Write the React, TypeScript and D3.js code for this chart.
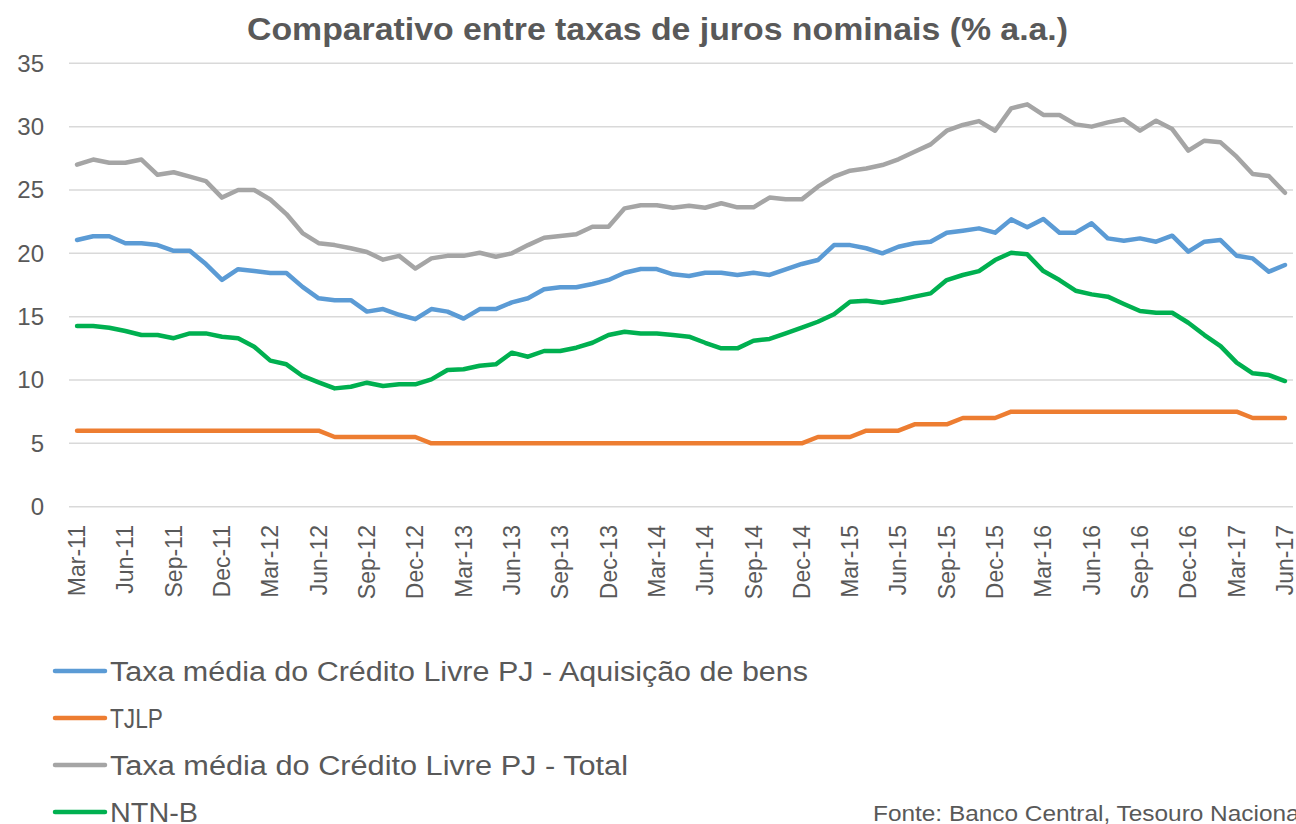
import React, { useRef, useEffect } from "react"
import * as d3 from "d3"

// Monthly observations, Mar-11 .. Jun-17
const months: Date[] = d3.timeMonth.range(new Date(2011, 2, 1), new Date(2017, 6, 1))

const aquisicao = [
  21.05, 21.35, 21.35, 20.8, 20.8, 20.65, 20.2, 20.2, 19.15, 17.9,
  18.75, 18.6, 18.45, 18.45, 17.35, 16.45, 16.3, 16.3, 15.4, 15.6,
  15.15, 14.8, 15.6, 15.4, 14.85, 15.6, 15.6, 16.13, 16.45, 17.16,
  17.32, 17.32, 17.58, 17.9, 18.47, 18.76, 18.76, 18.34, 18.21, 18.47,
  18.47, 18.29, 18.47, 18.29, 18.74, 19.16, 19.47, 20.65, 20.65, 20.4,
  20.0, 20.52, 20.79, 20.92, 21.63, 21.79, 21.97, 21.63, 22.68, 22.05,
  22.71, 21.63, 21.63, 22.37, 21.18, 21.0, 21.18, 20.92, 21.39, 20.13,
  20.92, 21.05, 19.81, 19.6, 18.55, 19.08,
]

const tjlp = [
  6, 6, 6, 6, 6, 6, 6, 6, 6, 6, 6, 6, 6, 6, 6, 6,
  5.5, 5.5, 5.5, 5.5, 5.5, 5.5,
  5, 5, 5, 5, 5, 5, 5, 5, 5, 5, 5, 5, 5, 5, 5, 5, 5, 5, 5, 5, 5, 5, 5, 5,
  5.5, 5.5, 5.5,
  6, 6, 6,
  6.5, 6.5, 6.5,
  7, 7, 7,
  7.5, 7.5, 7.5, 7.5, 7.5, 7.5, 7.5, 7.5, 7.5, 7.5, 7.5, 7.5, 7.5, 7.5, 7.5,
  7, 7, 7,
]

const total = [
  27.0, 27.4, 27.15, 27.15, 27.4, 26.2, 26.4, 26.05, 25.7, 24.4,
  25.0, 25.0, 24.25, 23.1, 21.6, 20.8, 20.65, 20.4, 20.1, 19.5,
  19.8, 18.8, 19.6, 19.8, 19.8, 20.05, 19.73, 20.0, 20.65, 21.23,
  21.37, 21.5, 22.1, 22.1, 23.55, 23.8, 23.8, 23.6, 23.76, 23.6,
  23.95, 23.63, 23.63, 24.4, 24.26, 24.26, 25.26, 26.05, 26.52, 26.7,
  26.97, 27.42, 28.02, 28.6, 29.68, 30.13, 30.44, 29.68, 31.44, 31.76,
  30.92, 30.92, 30.18, 30.0, 30.34, 30.58, 29.68, 30.47, 29.81, 28.1,
  28.89, 28.76, 27.63, 26.26, 26.1, 24.78,
]

const ntnb = [
  14.26, 14.26, 14.13, 13.87, 13.55, 13.55, 13.3, 13.68, 13.68, 13.42,
  13.3, 12.63, 11.53, 11.24, 10.32, 9.82, 9.34, 9.47, 9.79, 9.53,
  9.66, 9.66, 10.05, 10.79, 10.85, 11.13, 11.24, 12.16, 11.84, 12.29,
  12.29, 12.55, 12.94, 13.55, 13.81, 13.68, 13.68, 13.55, 13.42, 12.94,
  12.5, 12.5, 13.1, 13.24, 13.68, 14.13, 14.6, 15.19, 16.18, 16.25,
  16.1, 16.31, 16.58, 16.84, 17.89, 18.29, 18.6, 19.47, 20.05, 19.92,
  18.6, 17.89, 17.05, 16.76, 16.58, 16.0, 15.45, 15.31, 15.31, 14.52,
  13.55, 12.68, 11.37, 10.53, 10.39, 9.92,
]

const yTicks = [0, 5, 10, 15, 20, 25, 30, 35]

const seriesNames = [
  "Taxa média do Crédito Livre PJ - Aquisição de bens",
  "TJLP",
  "Taxa média do Crédito Livre PJ - Total",
  "NTN-B",
]
const seriesValues = [aquisicao, tjlp, total, ntnb]
const colors = ["#5b9bd5", "#ed7d31", "#a5a5a5", "#00b050"]
const legendWidths = [698, 53, 518, 88]

const title = "Comparativo entre taxas de juros nominais (% a.a.)"
const source = "Fonte: Banco Central, Tesouro Nacional"

const fmt = d3.timeFormat("%b-%y")
const font = "'Liberation Sans', Arial, sans-serif"
const textColor = "#595959"

const Chart: React.FC = () => {
  const svgRef = useRef<SVGSVGElement | null>(null)
  const width = 1296
  const height = 824

  useEffect(() => {
    document.body.style.margin = "0"
    const svg = d3.select(svgRef.current)
    svg.selectAll("*").remove()

    const labels = months.map(fmt)

    // SCALES
    const xScale = d3.scaleBand<string>()
      .domain(labels)
      .range([69, 1293])
      .padding(0)
    const xc = (l: string) => (xScale(l) as number) + xScale.bandwidth() / 2

    const yScale = d3.scaleLinear()
      .domain([0, 35])
      .range([506.7, 63.3])

    // GRID
    svg.append("g")
      .selectAll("line")
      .data(yTicks)
      .enter()
      .append("line")
      .attr("x1", 69)
      .attr("x2", 1293)
      .attr("y1", d => yScale(d))
      .attr("y2", d => yScale(d))
      .attr("stroke", "#d9d9d9")
      .attr("stroke-width", 1.5)

    // Y AXIS LABELS
    svg.append("g")
      .selectAll("text")
      .data(yTicks)
      .enter()
      .append("text")
      .attr("x", 44)
      .attr("y", d => yScale(d))
      .attr("dy", "0.35em")
      .attr("text-anchor", "end")
      .attr("font-family", font)
      .attr("font-size", 24)
      .attr("fill", textColor)
      .text(d => d)

    // X AXIS LABELS (every 3 months)
    const tickLabels = labels.filter((_l, i) => i % 3 === 0)
    svg.append("g")
      .selectAll("text")
      .data(tickLabels)
      .enter()
      .append("text")
      .attr("transform", l => `translate(${xc(l)},525) rotate(-90)`)
      .attr("dy", "0.35em")
      .attr("text-anchor", "end")
      .attr("font-family", font)
      .attr("font-size", 23)
      .attr("fill", textColor)
      .text(l => l)

    // LINES
    const line = d3.line<number>()
      .x((_v, i) => xc(labels[i]))
      .y(v => yScale(v))

    svg.append("g")
      .selectAll("path")
      .data(seriesValues)
      .enter()
      .append("path")
      .attr("d", d => line(d))
      .attr("fill", "none")
      .attr("stroke", (_d, i) => colors[i])
      .attr("stroke-width", 4.5)
      .attr("stroke-linejoin", "round")
      .attr("stroke-linecap", "round")

    // TITLE
    svg.append("text")
      .attr("x", 247)
      .attr("y", 40)
      .attr("font-family", font)
      .attr("font-size", 31)
      .attr("font-weight", "bold")
      .attr("fill", textColor)
      .attr("textLength", 821)
      .attr("lengthAdjust", "spacingAndGlyphs")
      .text(title)

    // LEGEND
    const legend = svg.append("g")
      .selectAll("g")
      .data(seriesNames)
      .enter()
      .append("g")
      .attr("transform", (_n, i) => `translate(0,${671 + i * 47})`)

    legend.append("line")
      .attr("x1", 55)
      .attr("x2", 105)
      .attr("stroke", (_n, i) => colors[i])
      .attr("stroke-width", 4.5)
      .attr("stroke-linecap", "round")

    legend.append("text")
      .attr("x", 110)
      .attr("dy", "0.36em")
      .attr("font-family", font)
      .attr("font-size", 27)
      .attr("fill", textColor)
      .attr("textLength", (_n, i) => legendWidths[i])
      .attr("lengthAdjust", "spacingAndGlyphs")
      .text(n => n)

    // SOURCE
    svg.append("text")
      .attr("x", 873)
      .attr("y", 821)
      .attr("font-family", font)
      .attr("font-size", 22)
      .attr("fill", textColor)
      .attr("textLength", 432)
      .attr("lengthAdjust", "spacingAndGlyphs")
      .text(source)
  }, [])

  return <svg ref={svgRef} width={width} height={height} style={{ display: "block", background: "#fff" }}></svg>
}

export default function App() {
  return <Chart />
}
